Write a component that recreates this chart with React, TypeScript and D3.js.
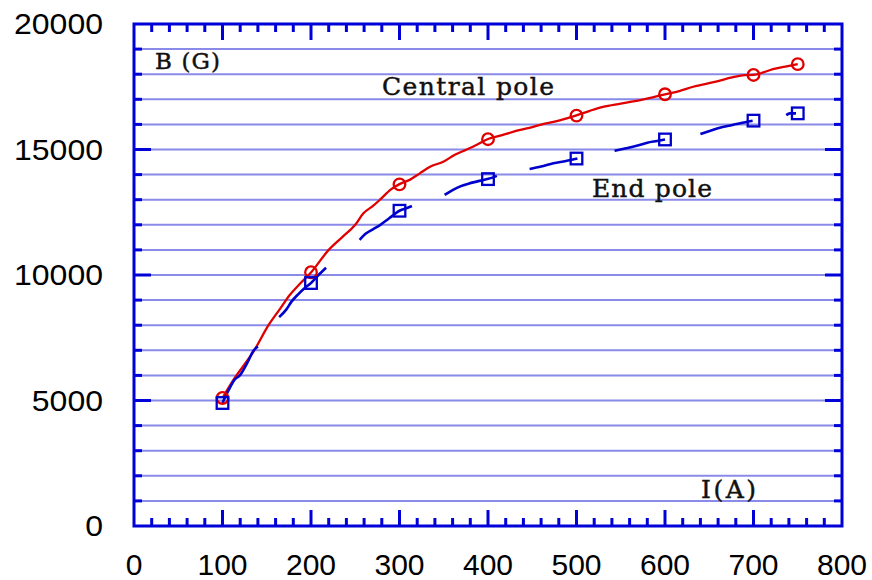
import React from "react";
import * as d3 from "d3";

// ---- data ----
const markerCurrents = [100, 200, 300, 400, 500, 600, 700, 750];
const centralMarkers = [5100, 10110, 13610, 15410, 16350, 17200, 17970, 18400];
const endMarkers = [4900, 9680, 12560, 13820, 14640, 15400, 16150, 16440];

const centralCurveI = [100, 112, 124, 135, 152, 165, 176, 188, 200, 220, 235, 250, 259, 270, 278, 290, 300, 312, 323, 335, 350, 362, 376, 388, 400, 415, 429, 444, 459, 480, 500, 515, 530, 550, 572, 586, 600, 616, 632, 655, 677, 690, 700, 712, 722, 736, 750];
const centralCurveB = [5100, 5800, 6400, 6950, 8000, 8650, 9200, 9670, 10100, 11000, 11500, 12000, 12450, 12750, 13000, 13400, 13620, 13800, 14050, 14320, 14520, 14780, 15000, 15200, 15420, 15560, 15710, 15840, 15980, 16150, 16360, 16540, 16700, 16830, 16970, 17080, 17200, 17330, 17500, 17680, 17880, 17960, 17970, 18080, 18200, 18300, 18400];

const endSegmentsI = [
  [100, 107, 113, 120, 128, 135, 140],
  [164, 172, 178, 186, 193, 200, 208, 217],
  [255, 262, 270, 278, 288, 300, 307, 314],
  [351, 360, 368, 378, 387, 399, 405, 410],
  [447, 460, 474, 488, 501],
  [543, 556, 568, 580, 591, 600],
  [640, 652, 662, 674, 685, 699],
  [737, 741, 748],
];
const endSegmentsB = [
  [4900, 5420, 5800, 6020, 6500, 6980, 7150],
  [8320, 8620, 8940, 9250, 9480, 9680, 9980, 10290],
  [11400, 11650, 11820, 11990, 12250, 12560, 12650, 12750],
  [13190, 13380, 13520, 13640, 13720, 13820, 13880, 13950],
  [14220, 14320, 14450, 14540, 14640],
  [14950, 15050, 15150, 15270, 15340, 15400],
  [15620, 15760, 15870, 15960, 16050, 16150],
  [16370, 16440, 16440],
];

const xTickLabels = [0, 100, 200, 300, 400, 500, 600, 700, 800];
const yTickLabels = [0, 5000, 10000, 15000, 20000];

// ---- styles ----
const AXIS = "#0000d8";
const GRID = "#8a8ae8";
const RED = "#e00000";
const BLUE = "#0000cc";
const SERIF = "'DejaVu Serif', serif";
const SANS = "'Liberation Sans', Arial, sans-serif";

export default function App() {
  const W = 872, H = 580;
  const left = 134, right = 842, top = 24, bottom = 526;
  const x = d3.scaleLinear().domain([0, 800]).range([left, right]);
  const y = d3.scaleLinear().domain([0, 20000]).range([bottom, top]);

  const line = d3
    .line<[number, number]>()
    .x((d) => x(d[0]))
    .y((d) => y(d[1]))
    .curve(d3.curveMonotoneX);

  const centralPts: [number, number][] = centralCurveI.map((v, i) => [v, centralCurveB[i]]);
  const endPaths = endSegmentsI.map((seg, s) =>
    line(seg.map((v, i) => [v, endSegmentsB[s][i]] as [number, number]))
  );

  const gridVals = d3.range(1000, 20000, 1000);
  const yTickVals = d3.range(1000, 20000, 1000);
  const xTickVals = d3.range(20, 800, 20);

  const textStyle = { fill: "#111", stroke: "#111", strokeWidth: 0.45 };

  return (
    <svg
      width={W}
      height={H}
      style={{ position: "absolute", left: 0, top: 0, background: "#fff" }}
    >
      {/* grid */}
      {gridVals.map((v) => (
        <line key={"g" + v} x1={left} x2={right} y1={y(v)} y2={y(v)} stroke={GRID} strokeWidth={2} />
      ))}

      {/* y ticks left/right */}
      {yTickVals.map((v) => {
        const len = v % 5000 === 0 ? 17 : 8;
        return (
          <g key={"yt" + v}>
            <line x1={left} x2={left + len} y1={y(v)} y2={y(v)} stroke={AXIS} strokeWidth={3} />
            <line x1={right} x2={right - len} y1={y(v)} y2={y(v)} stroke={AXIS} strokeWidth={3} />
          </g>
        );
      })}

      {/* x ticks top/bottom */}
      {xTickVals.map((v) => {
        const len = v % 100 === 0 ? 16 : 8;
        return (
          <g key={"xt" + v}>
            <line x1={x(v)} x2={x(v)} y1={bottom} y2={bottom - len} stroke={AXIS} strokeWidth={3} />
            <line x1={x(v)} x2={x(v)} y1={top} y2={top + len} stroke={AXIS} strokeWidth={3} />
          </g>
        );
      })}

      {/* frame */}
      <rect x={left} y={top} width={right - left} height={bottom - top} fill="none" stroke={AXIS} strokeWidth={3} />

      {/* tick labels */}
      {xTickLabels.map((v) => (
        <text key={"xl" + v} x={x(v)} y={575} textAnchor="middle" fontFamily={SANS} fontSize={30} fill="#000">
          {v}
        </text>
      ))}
      {yTickLabels.map((v) => (
        <text key={"yl" + v} x={103} y={y(v) + 10} textAnchor="end" fontFamily={SANS} fontSize={30} textLength={String(v).length * 17.8} lengthAdjust="spacingAndGlyphs" fill="#000">
          {v}
        </text>
      ))}

      {/* central pole curve */}
      <path d={line(centralPts) || ""} fill="none" stroke={RED} strokeWidth={2.3} />
      {/* end pole segments */}
      {endPaths.map((d, i) => (
        <path key={"e" + i} d={d || ""} fill="none" stroke={BLUE} strokeWidth={2.6} />
      ))}

      {/* markers */}
      {markerCurrents.map((c, i) => (
        <circle key={"c" + c} cx={x(c)} cy={y(centralMarkers[i])} r={5.8} fill="none" stroke={RED} strokeWidth={2.3} />
      ))}
      {markerCurrents.map((c, i) => (
        <rect
          key={"s" + c}
          x={x(c) - 5.8}
          y={y(endMarkers[i]) - 5.8}
          width={11.6}
          height={11.6}
          fill="none"
          stroke={BLUE}
          strokeWidth={2.3}
        />
      ))}

      {/* annotations */}
      <text x={155} y={69} fontFamily={SERIF} fontSize={23} textLength={65} lengthAdjust="spacing" {...textStyle}>
        B (G)
      </text>
      <text x={382} y={95} fontFamily={SERIF} fontSize={25} textLength={172} lengthAdjust="spacing" {...textStyle}>
        Central pole
      </text>
      <text x={592} y={197} fontFamily={SERIF} fontSize={25} textLength={120} lengthAdjust="spacing" {...textStyle}>
        End pole
      </text>
      <text x={701} y={498} fontFamily={SERIF} fontSize={25} textLength={55} lengthAdjust="spacing" {...textStyle}>
        I(A)
      </text>
    </svg>
  );
}
